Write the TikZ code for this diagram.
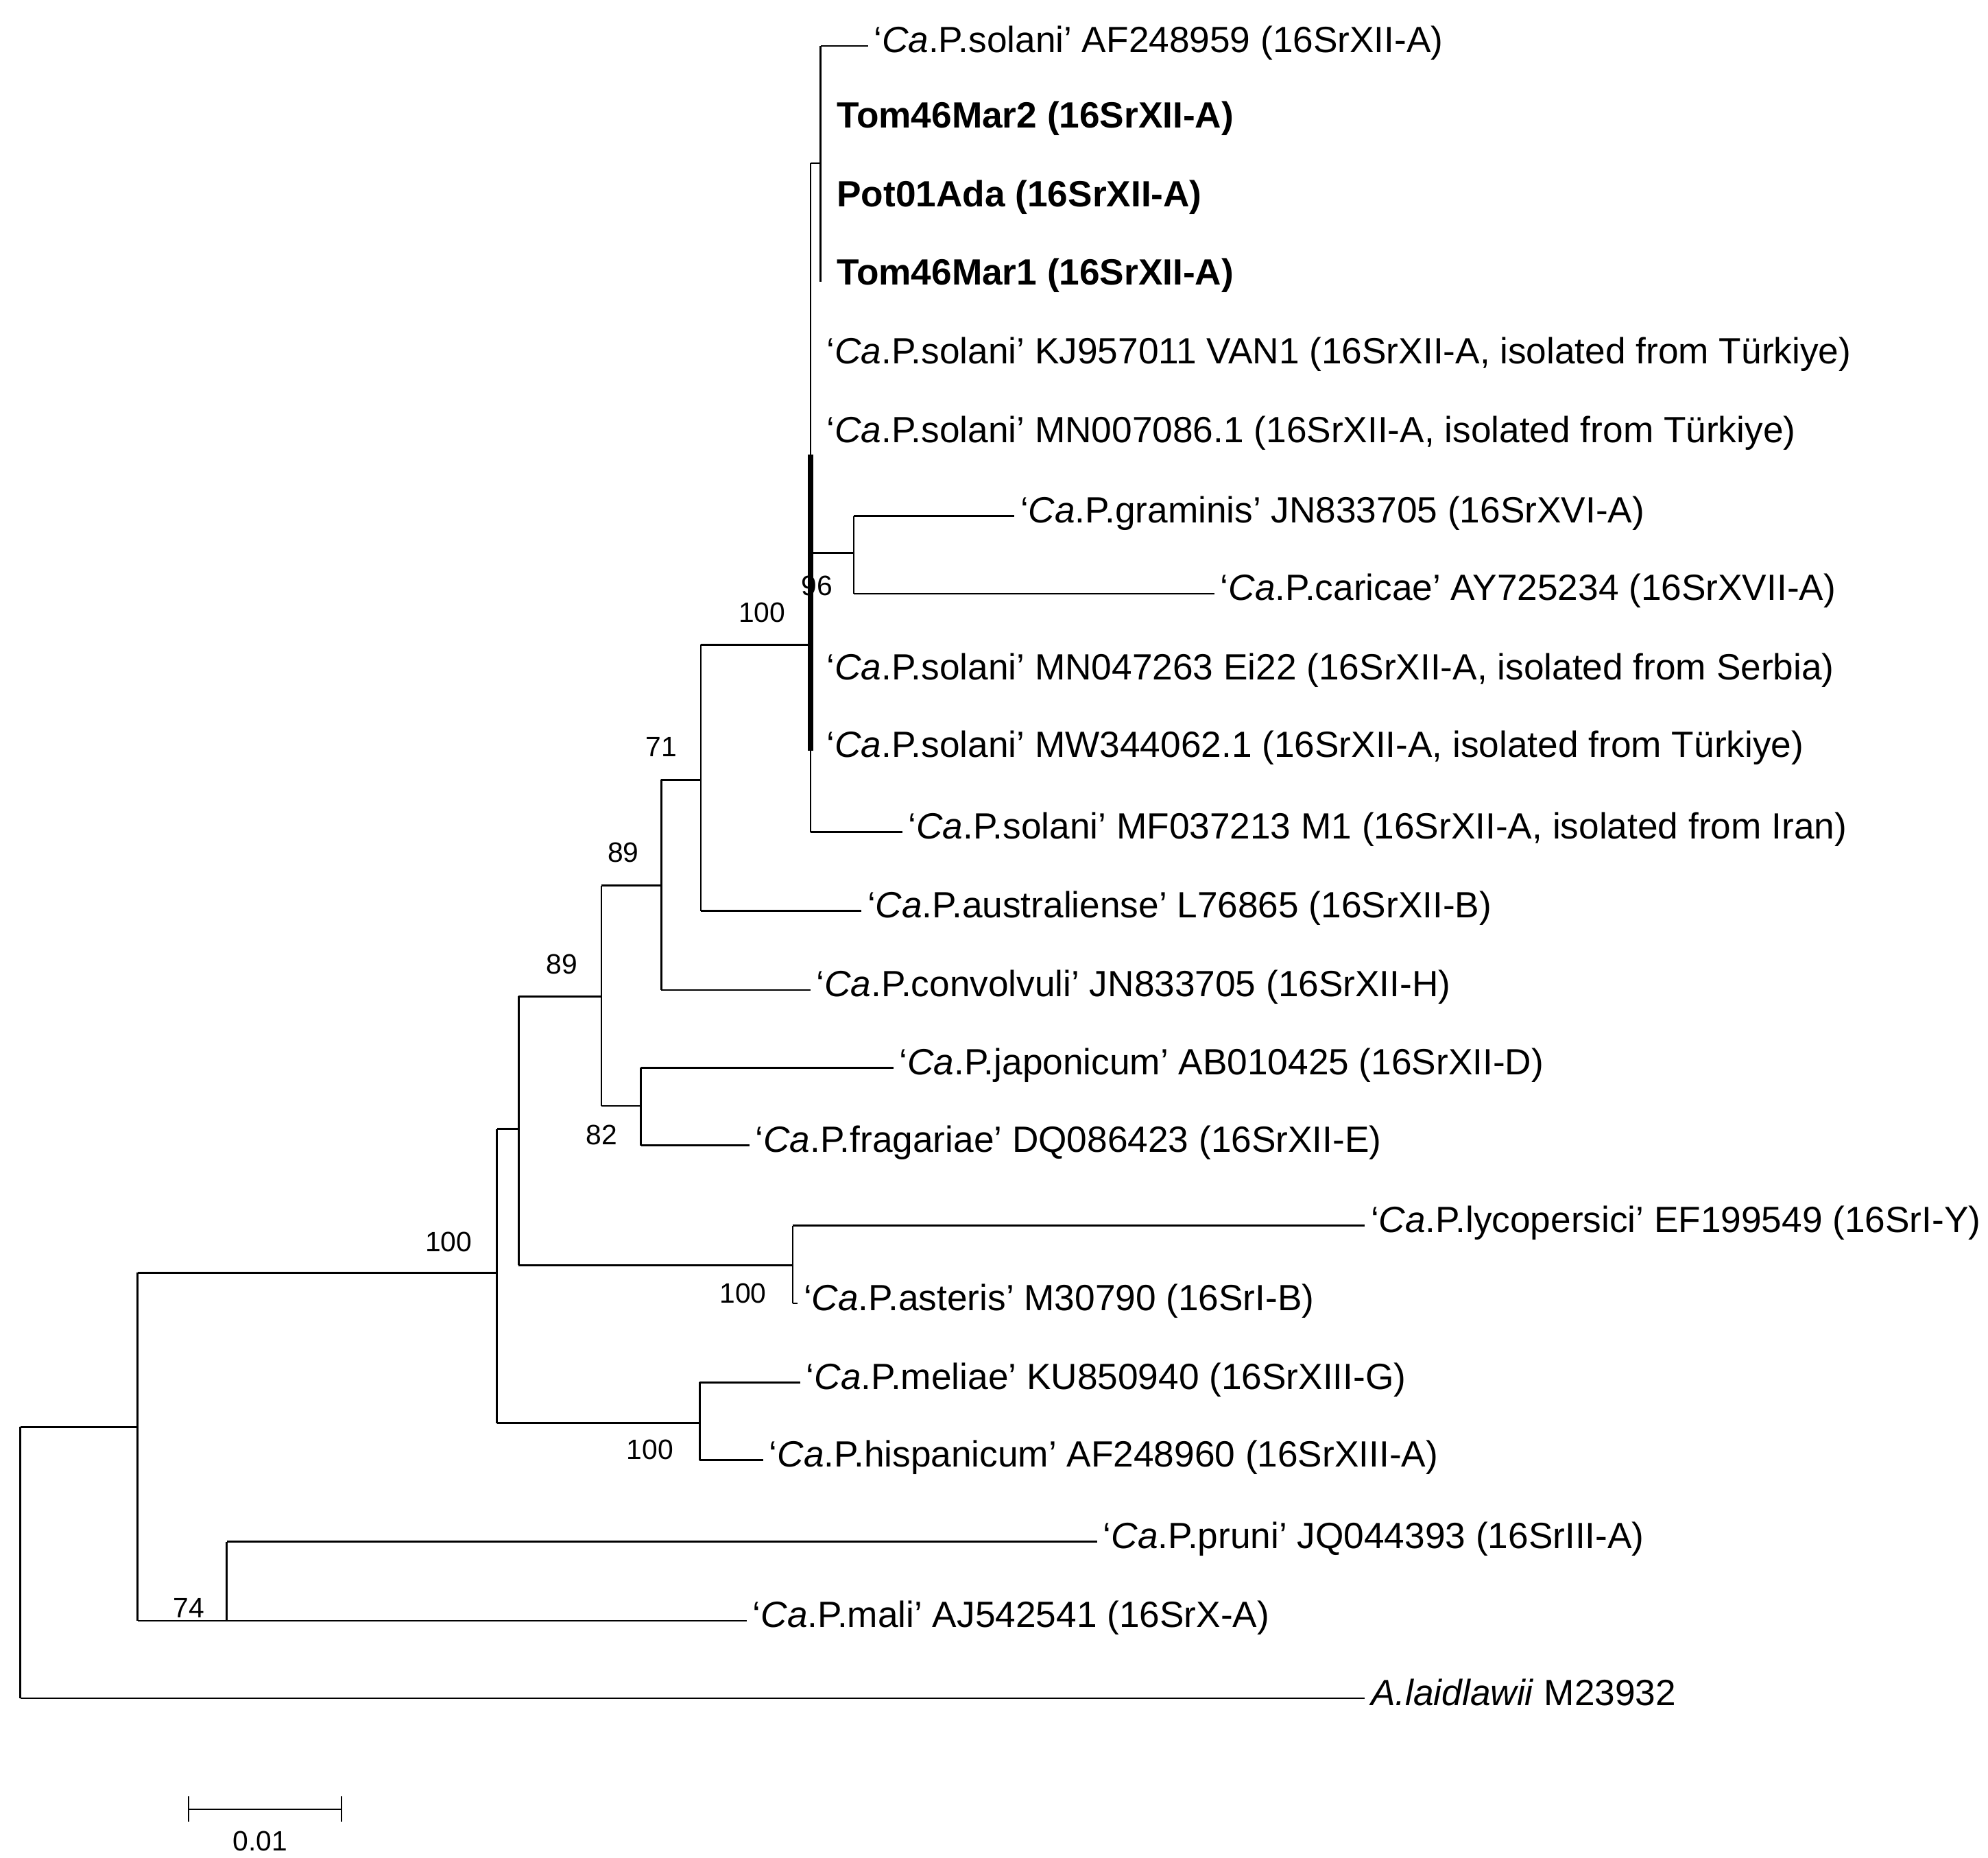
\documentclass[tikz,border=0pt]{standalone}
\usepackage{fontspec}
\setmainfont{Liberation Sans}
\usepackage{tikz}
\usetikzlibrary{positioning}

\begin{document}
\begin{tikzpicture}[
    x=0.02cm, y=-0.02cm,
    leaf/.style={anchor=west, inner sep=2.5pt, text height=1.6ex, text depth=0.45ex, font=\fontsize{16.3}{19}\selectfont},
    bleaf/.style={leaf, font=\fontsize{16.3}{19}\selectfont\bfseries},
    boot/.style={font=\fontsize{12.5}{14}\selectfont, inner sep=1pt},
    branch/.style={line width=0.8pt}
]
\useasboundingbox (0,0) rectangle (1560,1458);

% Leaves
\node[leaf] (sol1) at (681,36) {‘\textit{Ca}.P.solani’ AF248959 (16SrXII-A)};
\node[bleaf] (tom2) at (652,95) {Tom46Mar2 (16SrXII-A)};
\node[bleaf] (pot) at (652,157) {Pot01Ada (16SrXII-A)};
\node[bleaf] (tom1) at (652,218) {Tom46Mar1 (16SrXII-A)};
\node[leaf] (kj) at (644,280) {‘\textit{Ca}.P.solani’ KJ957011 VAN1 (16SrXII-A, isolated from Türkiye)};
\node[leaf] (mn7) at (644,342) {‘\textit{Ca}.P.solani’ MN007086.1 (16SrXII-A, isolated from Türkiye)};
\node[leaf] (gram) at (796,405) {‘\textit{Ca}.P.graminis’ JN833705 (16SrXVI-A)};
\node[leaf] (car) at (953,466) {‘\textit{Ca}.P.caricae’ AY725234 (16SrXVII-A)};
\node[leaf] (ei) at (644,528) {‘\textit{Ca}.P.solani’ MN047263 Ei22 (16SrXII-A, isolated from Serbia)};
\node[leaf] (mw) at (644,589) {‘\textit{Ca}.P.solani’ MW344062.1 (16SrXII-A, isolated from Türkiye)};
\node[leaf] (mf) at (708,653) {‘\textit{Ca}.P.solani’ MF037213 M1 (16SrXII-A, isolated from Iran)};
\node[leaf] (aus) at (676,715) {‘\textit{Ca}.P.australiense’ L76865 (16SrXII-B)};
\node[leaf] (conv) at (636,777) {‘\textit{Ca}.P.convolvuli’ JN833705 (16SrXII-H)};
\node[leaf] (jap) at (701,838) {‘\textit{Ca}.P.japonicum’ AB010425 (16SrXII-D)};
\node[leaf] (frag) at (588,899) {‘\textit{Ca}.P.fragariae’ DQ086423 (16SrXII-E)};
\node[leaf] (lyc) at (1071,962) {‘\textit{Ca}.P.lycopersici’ EF199549 (16SrI-Y)};
\node[leaf] (ast) at (626,1023) {‘\textit{Ca}.P.asteris’ M30790 (16SrI-B)};
\node[leaf] (mel) at (628,1085) {‘\textit{Ca}.P.meliae’ KU850940 (16SrXIII-G)};
\node[leaf] (hisp) at (599,1146) {‘\textit{Ca}.P.hispanicum’ AF248960 (16SrXIII-A)};
\node[leaf] (prun) at (861,1210) {‘\textit{Ca}.P.pruni’ JQ044393 (16SrIII-A)};
\node[leaf] (mali) at (586,1272) {‘\textit{Ca}.P.mali’ AJ542541 (16SrX-A)};
\node[leaf] (acho) at (1071,1333) {\textit{A.laidlawii} M23932};

% Internal nodes
\draw[branch] (644,36) -- (644,221);
\draw[branch] (644,36) -- (sol1.west);
\draw[branch] (636,128) -- (636,653);
\draw[line width=2.6pt] (636,357) -- (636,589);
\draw[branch] (636,128) -- (644,128);
\draw[branch] (636,434) -- (670,434);
\draw[branch] (670,405) -- (670,466);
\draw[branch] (670,405) -- (gram.west);
\draw[branch] (670,466) -- (car.west);
\draw[branch] (636,653) -- (mf.west);
\draw[branch] (550,506) -- (550,715);
\draw[branch] (550,506) -- (636,506);
\draw[branch] (550,715) -- (aus.west);
\draw[branch] (519,612) -- (519,777);
\draw[branch] (519,612) -- (550,612);
\draw[branch] (519,777) -- (conv.west);
\draw[branch] (472,695) -- (472,868);
\draw[branch] (472,695) -- (519,695);
\draw[branch] (503,838) -- (503,899);
\draw[branch] (472,868) -- (503,868);
\draw[branch] (503,838) -- (jap.west);
\draw[branch] (503,899) -- (frag.west);
\draw[branch] (407,782) -- (407,993);
\draw[branch] (407,782) -- (472,782);
\draw[branch] (622,962) -- (622,1023);
\draw[branch] (407,993) -- (622,993);
\draw[branch] (622,962) -- (lyc.west);
\draw[branch] (622,1023) -- (ast.west);
\draw[branch] (390,886) -- (390,1117);
\draw[branch] (390,886) -- (407,886);
\draw[branch] (549,1085) -- (549,1146);
\draw[branch] (390,1117) -- (549,1117);
\draw[branch] (549,1085) -- (mel.west);
\draw[branch] (549,1146) -- (hisp.west);
\draw[branch] (108,999) -- (108,1272);
\draw[branch] (108,999) -- (390,999);
\draw[branch] (178,1210) -- (178,1272);
\draw[branch] (108,1272) -- (178,1272);
\draw[branch] (178,1210) -- (prun.west);
\draw[branch] (178,1272) -- (mali.west);
\draw[branch] (16,1120) -- (16,1333);
\draw[branch] (16,1120) -- (108,1120);
\draw[branch] (16,1333) -- (acho.west);

% Bootstrap values
\node[boot] at (598,481) {100};
\node[boot] at (641,460) {96};
\node[boot] at (519,586) {71};
\node[boot] at (489,669) {89};
\node[boot] at (441,757) {89};
\node[boot] at (472,891) {82};
\node[boot] at (352,975) {100};
\node[boot] at (583,1015) {100};
\node[boot] at (510,1138) {100};
\node[boot] at (148,1262) {74};

% Scale bar
\coordinate (sa) at (148,1420);
\coordinate (sb) at (268,1420);
\draw[branch] (sa) -- (sb);
\draw[branch] (148,1410) -- (148,1430);
\draw[branch] (268,1410) -- (268,1430);
\node[boot] (scale) at (204,1445) {0.01};
\end{tikzpicture}
\end{document}
